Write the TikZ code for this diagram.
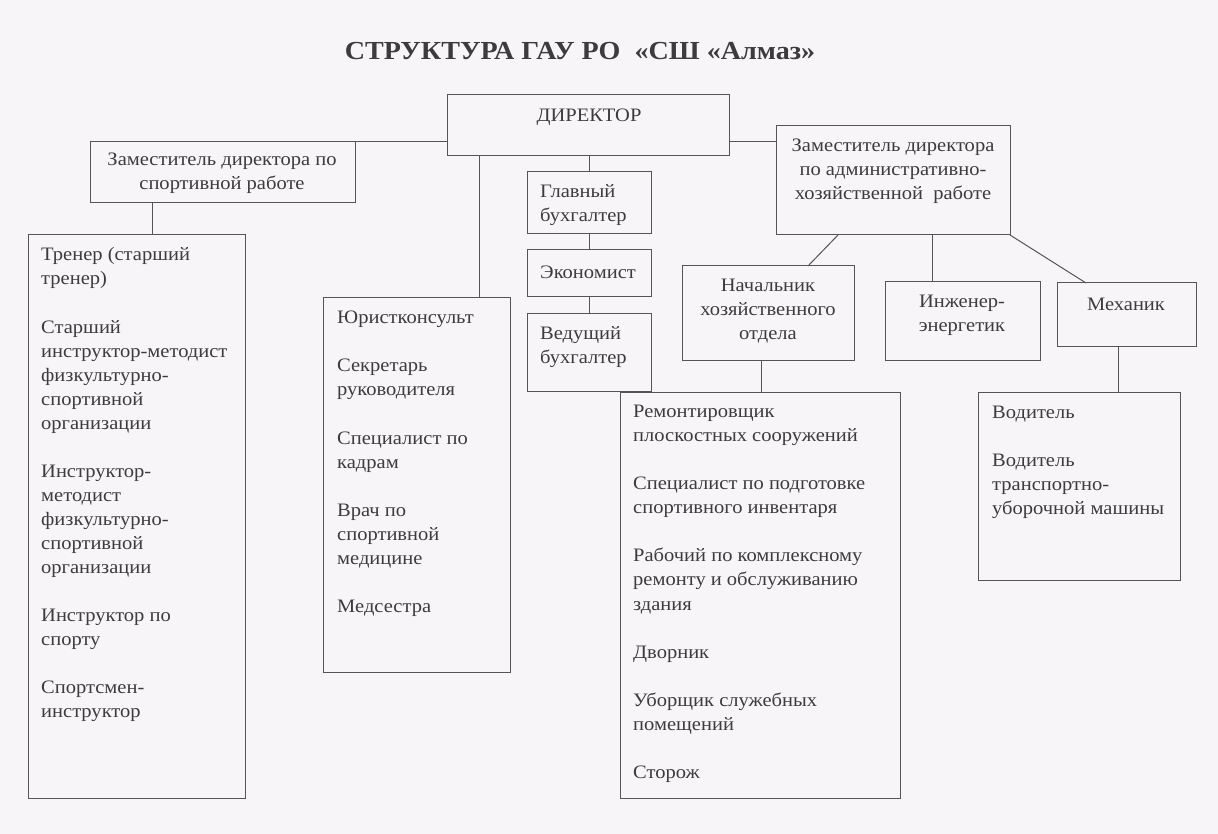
\documentclass[tikz,border=0pt]{standalone}
\usepackage{fontspec}
\setmainfont[FakeStretch=1.08]{Liberation Serif}
\usetikzlibrary{calc}
\definecolor{bg}{RGB}{248,245,248}
\definecolor{ln}{RGB}{85,85,85}
\definecolor{tx}{RGB}{60,60,60}
\newcommand{\bx}[5]{\node[orgbox, minimum width=#4pt-#2pt, minimum height=#5pt-#3pt] (#1) at (#2,#3) {};}
\begin{document}
\begin{tikzpicture}[x=1pt,y=-1pt,
  orgbox/.style={draw=ln, line width=1pt, inner sep=0pt, outer sep=0pt, anchor=north west},
  conn/.style={draw=ln, line width=1pt},
  txt/.style={text=tx, inner sep=0pt, font=\fontsize{19}{24.05}\selectfont, execute at begin node=\strut},
  lst/.style={txt, align=left, anchor=north west},
  ctr/.style={txt, align=center, anchor=north}]
\fill[bg] (0,0) rectangle (1218,834);
\useasboundingbox (0,0) rectangle (1218,834);
% title
\node[text=tx, inner sep=0pt, anchor=base, font=\fontsize{26}{30}\selectfont\bfseries] (title) at (580,59.5) {СТРУКТУРА ГАУ РО \ «СШ «Алмаз»};
% boxes
\bx{dir}{447}{95}{729}{156}
\bx{dsp}{90}{142}{355}{203}
\bx{dad}{776}{126}{1010}{235}
\bx{gb}{527}{172}{651}{234}
\bx{eco}{527}{250}{651}{297}
\bx{ved}{527}{314}{651}{391}
\bx{trn}{28}{235}{245}{798}
\bx{jur}{323}{298}{510}{672}
\bx{nach}{682}{266}{854}{360}
\bx{ing}{885}{282}{1040}{360}
\bx{mech}{1057}{283}{1196}{346}
\bx{rem}{620}{392}{900}{798}
\bx{vod}{978}{392}{1180}{580}
% texts
\node[ctr] (tdir) at (589,104) {ДИРЕКТОР};
\node[ctr] (tdsp) at (222,153) {Заместитель директора по\\спортивной работе};
\node[ctr] (tdad) at (893,139) {Заместитель директора\\по административно-\\хозяйственной \ работе};
\node[lst] (tgb) at (540,184) {Главный\\бухгалтер};
\node[lst] (teco) at (540,261) {Экономист};
\node[lst] (tved) at (540,326) {Ведущий\\бухгалтер};
\node[ctr] (tnach) at (768,279) {Начальник\\хозяйственного\\отдела};
\node[ctr] (ting) at (962,295) {Инженер-\\энергетик};
\node[ctr] (tmech) at (1126,293) {Механик};
\node[lst] (ttrn) at (41,247.5) {Тренер (старший\\тренер)\\[24.05pt]Старший\\инструктор-методист\\физкультурно-\\спортивной\\организации\\[24.05pt]Инструктор-\\методист\\физкультурно-\\спортивной\\организации\\[24.05pt]Инструктор по\\спорту\\[24.05pt]Спортсмен-\\инструктор};
\node[lst] (tjur) at (337,311) {Юристконсульт\\[24.05pt]Секретарь\\руководителя\\[24.05pt]Специалист по\\кадрам\\[24.05pt]Врач по\\спортивной\\медицине\\[24.05pt]Медсестра};
\node[lst] (trem) at (633,405) {Ремонтировщик\\плоскостных сооружений\\[24.05pt]Специалист по подготовке\\спортивного инвентаря\\[24.05pt]Рабочий по комплексному\\ремонту и обслуживанию\\здания\\[24.05pt]Дворник\\[24.05pt]Уборщик служебных\\помещений\\[24.05pt]Сторож};
\node[lst] (tvod) at (992,405.5) {Водитель\\[24.05pt]Водитель\\транспортно-\\уборочной машины};
% connector helper coordinates
\coordinate (xjur) at (479,0);
\coordinate (xtrn) at (152,0);
\coordinate (xnach) at (761,0);
\coordinate (xmech) at (1118,0);
% connectors
\draw[conn] (dsp.north east) -- (dsp.north east -| dir.west);
\draw[conn] (dir.east |- dsp.north) -- (dad.west |- dsp.north);
\draw[conn] (dir.south -| xjur) -- (jur.north -| xjur);
\draw[conn] (gb.north) -- (gb.north |- dir.south);
\draw[conn] (gb.south) -- (eco.north);
\draw[conn] (eco.south) -- (ved.north);
\draw[conn] (dsp.south -| xtrn) -- (trn.north -| xtrn);
\draw[conn] ([xshift=-55pt]dad.south) -- ([xshift=40pt]nach.north);
\draw[conn] ([xshift=39pt]dad.south) -- ([xshift=-30.5pt]ing.north);
\draw[conn] (dad.south east) -- ([xshift=-40.5pt]mech.north);
\draw[conn] (nach.south -| xnach) -- (rem.north -| xnach);
\draw[conn] (mech.south -| xmech) -- (vod.north -| xmech);
\end{tikzpicture}
\end{document}
